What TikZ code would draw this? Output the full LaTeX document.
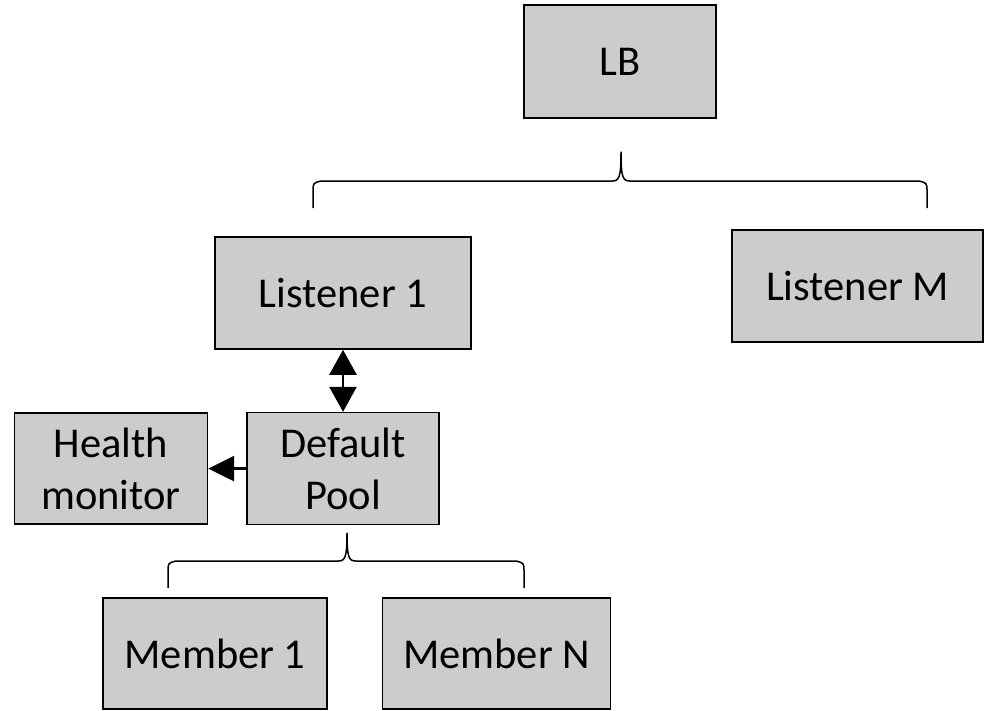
\documentclass[tikz,border=0pt]{standalone}
\usepackage{fontspec}
\setmainfont{Carlito}
\usepackage{xcolor}
\usepackage{tikz}
\usetikzlibrary{positioning,arrows.meta}

\definecolor{boxgray}{RGB}{204,204,204}

\begin{document}
\begin{tikzpicture}[x=1pt, y=-1pt,
    every node/.style={font=\fontsize{42.5}{52}\selectfont},
    block/.style={draw, line width=1.6pt, fill=boxgray, inner sep=0pt, align=center},
    brace/.style={line width=1.5pt, line join=round},
    arrow/.style={-{Triangle[length=26pt, width=25pt]}, line width=2.6pt},
    dblarrow/.style={{Triangle[length=25pt, width=27pt]}-{Triangle[length=25pt, width=27pt]}, line width=2.6pt},
]
\useasboundingbox (0,0) rectangle (984,710);

\node[block, minimum width=192pt, minimum height=113pt] (lb) at (620,61.5) {LB};
\node[block, minimum width=256pt, minimum height=112pt] (l1) at (343,293) {Listener 1};
\node[block, minimum width=251pt, minimum height=112pt] (lm) at (857.5,286) {Listener M};
\node[block, minimum width=192pt, minimum height=112pt, below=62pt of l1] (pool) {Default\\Pool};
\node[block, minimum width=193pt, minimum height=111pt, left=38pt of pool] (hm) {Health\\monitor};
\node[block, minimum width=224pt, minimum height=111pt] (m1) at (215,653.5) {Member 1};
\node[block, minimum width=228pt, minimum height=111pt, right=54pt of m1] (mn) {Member N};

% braces
\coordinate (lbtip) at (621,152);
\coordinate (pooltip) at (347,533);
\draw[brace] (313,208) -- (313,192) .. controls (313,183) .. (321,181) -- (612,181)
    .. controls (619,181) and (621,178) .. (lbtip)
    .. controls (621,178) and (623,181) .. (630,181) -- (919,181)
    .. controls (927,183) .. (927,192) -- (927,208);
\draw[brace] (168,588) -- (168,572) .. controls (168,563) .. (176,561) -- (338,561)
    .. controls (345,561) and (347,558) .. (pooltip)
    .. controls (347,558) and (349,561) .. (356,561) -- (516,561)
    .. controls (524,563) .. (524,572) -- (524,588);

\draw[dblarrow] (l1) -- (pool);
\draw[arrow] (pool) -- (hm);
\end{tikzpicture}
\end{document}
